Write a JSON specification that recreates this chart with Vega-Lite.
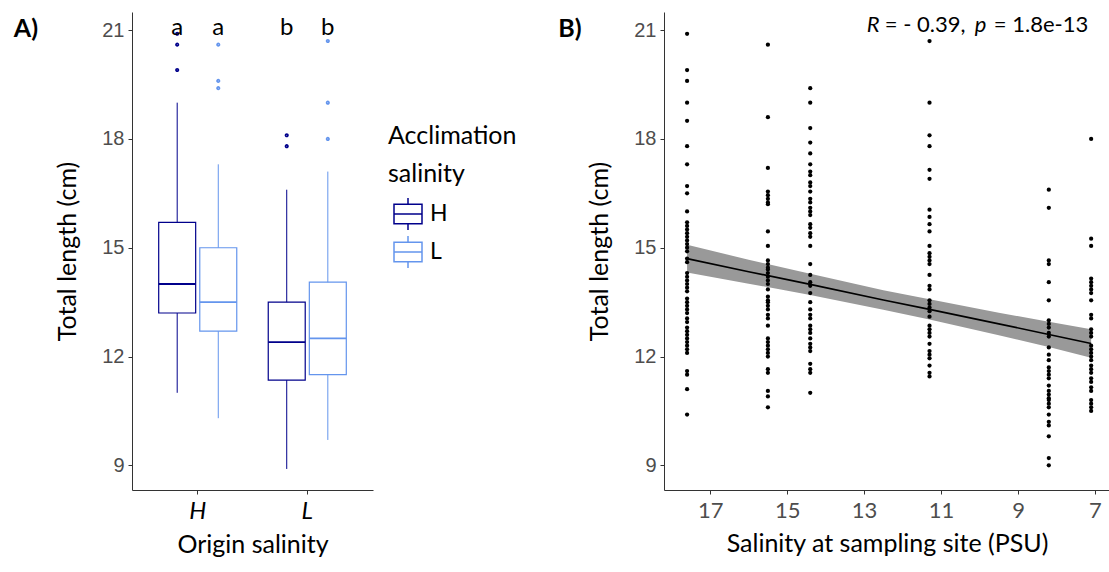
{
  "$schema": "https://vega.github.io/schema/vega-lite/v6.json",
  "background": "white",
  "padding": {"left": 13, "top": 12, "right": 0, "bottom": 4},
  "bounds": "flush",
  "spacing": 291,
  "config": {
    "view": {"stroke": null},
    "axis": {
      "grid": false,
      "domainColor": "#333333",
      "tickColor": "#333333",
      "domainWidth": 1,
      "tickWidth": 1,
      "tickSize": 4,
      "labelPadding": 4,
      "labelColor": "#4D4D4D",
      "labelFont": "Liberation Sans",
      "labelFontSize": 20,
      "titleFont": "Lato",
      "titleFontSize": 25,
      "titleFontWeight": "normal",
      "titleColor": "black"
    }
  },
  "datasets": {
    "boxes": [
      {"origin": "H", "accl": "H", "lo": 11.0, "q1": 13.2, "med": 14.0, "q3": 15.7, "hi": 19.0},
      {"origin": "H", "accl": "L", "lo": 10.3, "q1": 12.7, "med": 13.5, "q3": 15.0, "hi": 17.3},
      {"origin": "L", "accl": "H", "lo": 8.9, "q1": 11.35, "med": 12.4, "q3": 13.5, "hi": 16.6},
      {"origin": "L", "accl": "L", "lo": 9.7, "q1": 11.5, "med": 12.5, "q3": 14.05, "hi": 17.1}
    ],
    "outliers": [
      {"origin": "H", "accl": "H", "tl": 20.9},
      {"origin": "H", "accl": "H", "tl": 20.6},
      {"origin": "H", "accl": "H", "tl": 19.9},
      {"origin": "H", "accl": "L", "tl": 20.6},
      {"origin": "H", "accl": "L", "tl": 19.6},
      {"origin": "H", "accl": "L", "tl": 19.4},
      {"origin": "L", "accl": "H", "tl": 18.1},
      {"origin": "L", "accl": "H", "tl": 17.8},
      {"origin": "L", "accl": "L", "tl": 20.7},
      {"origin": "L", "accl": "L", "tl": 19.0},
      {"origin": "L", "accl": "L", "tl": 18.0}
    ],
    "letters": [
      {"origin": "H", "accl": "H", "tl": 20.87, "group": "a"},
      {"origin": "H", "accl": "L", "tl": 20.87, "group": "a"},
      {"origin": "L", "accl": "H", "tl": 20.87, "group": "b"},
      {"origin": "L", "accl": "L", "tl": 20.87, "group": "b"}
    ],
    "obs": [
      {"s": 17.6, "tl": 20.9}, {"s": 17.6, "tl": 19.9}, {"s": 17.6, "tl": 19.6}, {"s": 17.6, "tl": 19.0},
      {"s": 17.6, "tl": 18.5}, {"s": 17.6, "tl": 17.8}, {"s": 17.6, "tl": 17.3}, {"s": 17.6, "tl": 16.7},
      {"s": 17.6, "tl": 16.5}, {"s": 17.6, "tl": 16.0}, {"s": 17.6, "tl": 15.7}, {"s": 17.6, "tl": 15.6},
      {"s": 17.6, "tl": 15.5}, {"s": 17.6, "tl": 15.4}, {"s": 17.6, "tl": 15.3}, {"s": 17.6, "tl": 15.2},
      {"s": 17.6, "tl": 15.1}, {"s": 17.6, "tl": 15.0}, {"s": 17.6, "tl": 14.9}, {"s": 17.6, "tl": 14.7},
      {"s": 17.6, "tl": 14.6}, {"s": 17.6, "tl": 14.3}, {"s": 17.6, "tl": 14.2}, {"s": 17.6, "tl": 14.1},
      {"s": 17.6, "tl": 14.0}, {"s": 17.6, "tl": 13.9}, {"s": 17.6, "tl": 13.8}, {"s": 17.6, "tl": 13.6},
      {"s": 17.6, "tl": 13.5}, {"s": 17.6, "tl": 13.4}, {"s": 17.6, "tl": 13.3}, {"s": 17.6, "tl": 13.2},
      {"s": 17.6, "tl": 13.05}, {"s": 17.6, "tl": 12.95}, {"s": 17.6, "tl": 12.8}, {"s": 17.6, "tl": 12.7},
      {"s": 17.6, "tl": 12.6}, {"s": 17.6, "tl": 12.5}, {"s": 17.6, "tl": 12.4}, {"s": 17.6, "tl": 12.3},
      {"s": 17.6, "tl": 12.2}, {"s": 17.6, "tl": 12.1}, {"s": 17.6, "tl": 11.6}, {"s": 17.6, "tl": 11.5},
      {"s": 17.6, "tl": 11.1}, {"s": 17.6, "tl": 10.4},
      {"s": 15.5, "tl": 20.6}, {"s": 15.5, "tl": 18.6}, {"s": 15.5, "tl": 17.2}, {"s": 15.5, "tl": 16.55},
      {"s": 15.5, "tl": 16.45}, {"s": 15.5, "tl": 16.35}, {"s": 15.5, "tl": 16.25}, {"s": 15.5, "tl": 16.2},
      {"s": 15.5, "tl": 15.45}, {"s": 15.5, "tl": 15.05}, {"s": 15.5, "tl": 14.65}, {"s": 15.5, "tl": 14.55},
      {"s": 15.5, "tl": 14.45}, {"s": 15.5, "tl": 14.4}, {"s": 15.5, "tl": 14.3}, {"s": 15.5, "tl": 14.2},
      {"s": 15.5, "tl": 14.1}, {"s": 15.5, "tl": 14.0}, {"s": 15.5, "tl": 13.85}, {"s": 15.5, "tl": 13.65},
      {"s": 15.5, "tl": 13.55}, {"s": 15.5, "tl": 13.5}, {"s": 15.5, "tl": 13.4}, {"s": 15.5, "tl": 13.3},
      {"s": 15.5, "tl": 13.15}, {"s": 15.5, "tl": 13.05}, {"s": 15.5, "tl": 12.85}, {"s": 15.5, "tl": 12.5},
      {"s": 15.5, "tl": 12.4}, {"s": 15.5, "tl": 12.3}, {"s": 15.5, "tl": 12.2}, {"s": 15.5, "tl": 12.1},
      {"s": 15.5, "tl": 12.0}, {"s": 15.5, "tl": 11.65}, {"s": 15.5, "tl": 11.55}, {"s": 15.5, "tl": 11.05},
      {"s": 15.5, "tl": 10.9}, {"s": 15.5, "tl": 10.6},
      {"s": 14.4, "tl": 19.4}, {"s": 14.4, "tl": 19.0}, {"s": 14.4, "tl": 18.3}, {"s": 14.4, "tl": 17.9},
      {"s": 14.4, "tl": 17.6}, {"s": 14.4, "tl": 17.3}, {"s": 14.4, "tl": 17.1}, {"s": 14.4, "tl": 17.0},
      {"s": 14.4, "tl": 16.8}, {"s": 14.4, "tl": 16.7}, {"s": 14.4, "tl": 16.55}, {"s": 14.4, "tl": 16.35},
      {"s": 14.4, "tl": 16.25}, {"s": 14.4, "tl": 16.1}, {"s": 14.4, "tl": 16.0}, {"s": 14.4, "tl": 15.9},
      {"s": 14.4, "tl": 15.65}, {"s": 14.4, "tl": 15.55}, {"s": 14.4, "tl": 15.4}, {"s": 14.4, "tl": 15.3},
      {"s": 14.4, "tl": 15.05}, {"s": 14.4, "tl": 14.55}, {"s": 14.4, "tl": 14.25}, {"s": 14.4, "tl": 14.05},
      {"s": 14.4, "tl": 13.95}, {"s": 14.4, "tl": 13.75}, {"s": 14.4, "tl": 13.5}, {"s": 14.4, "tl": 13.3},
      {"s": 14.4, "tl": 13.15}, {"s": 14.4, "tl": 13.05}, {"s": 14.4, "tl": 12.85}, {"s": 14.4, "tl": 12.75},
      {"s": 14.4, "tl": 12.65}, {"s": 14.4, "tl": 12.5}, {"s": 14.4, "tl": 12.35}, {"s": 14.4, "tl": 12.25},
      {"s": 14.4, "tl": 12.15}, {"s": 14.4, "tl": 11.8}, {"s": 14.4, "tl": 11.65}, {"s": 14.4, "tl": 11.55},
      {"s": 14.4, "tl": 11.0},
      {"s": 11.3, "tl": 20.7}, {"s": 11.3, "tl": 19.0}, {"s": 11.3, "tl": 18.1}, {"s": 11.3, "tl": 17.8},
      {"s": 11.3, "tl": 17.15}, {"s": 11.3, "tl": 16.9}, {"s": 11.3, "tl": 16.05}, {"s": 11.3, "tl": 15.85},
      {"s": 11.3, "tl": 15.65}, {"s": 11.3, "tl": 15.45}, {"s": 11.3, "tl": 15.05}, {"s": 11.3, "tl": 14.85},
      {"s": 11.3, "tl": 14.75}, {"s": 11.3, "tl": 14.65}, {"s": 11.3, "tl": 14.55}, {"s": 11.3, "tl": 14.25},
      {"s": 11.3, "tl": 13.95}, {"s": 11.3, "tl": 13.85}, {"s": 11.3, "tl": 13.55}, {"s": 11.3, "tl": 13.45},
      {"s": 11.3, "tl": 13.35}, {"s": 11.3, "tl": 13.25}, {"s": 11.3, "tl": 13.1}, {"s": 11.3, "tl": 12.85},
      {"s": 11.3, "tl": 12.75}, {"s": 11.3, "tl": 12.65}, {"s": 11.3, "tl": 12.55}, {"s": 11.3, "tl": 12.35},
      {"s": 11.3, "tl": 12.15}, {"s": 11.3, "tl": 12.05}, {"s": 11.3, "tl": 11.95}, {"s": 11.3, "tl": 11.75},
      {"s": 11.3, "tl": 11.55}, {"s": 11.3, "tl": 11.45},
      {"s": 8.2, "tl": 16.6}, {"s": 8.2, "tl": 16.1}, {"s": 8.2, "tl": 14.65}, {"s": 8.2, "tl": 14.55},
      {"s": 8.2, "tl": 14.05}, {"s": 8.2, "tl": 13.55}, {"s": 8.2, "tl": 13.0}, {"s": 8.2, "tl": 12.9},
      {"s": 8.2, "tl": 12.8}, {"s": 8.2, "tl": 12.65}, {"s": 8.2, "tl": 12.55}, {"s": 8.2, "tl": 12.25},
      {"s": 8.2, "tl": 12.05}, {"s": 8.2, "tl": 11.9}, {"s": 8.2, "tl": 11.7}, {"s": 8.2, "tl": 11.6},
      {"s": 8.2, "tl": 11.5}, {"s": 8.2, "tl": 11.4}, {"s": 8.2, "tl": 11.2}, {"s": 8.2, "tl": 11.05},
      {"s": 8.2, "tl": 10.95}, {"s": 8.2, "tl": 10.85}, {"s": 8.2, "tl": 10.8}, {"s": 8.2, "tl": 10.7},
      {"s": 8.2, "tl": 10.6}, {"s": 8.2, "tl": 10.4}, {"s": 8.2, "tl": 10.2}, {"s": 8.2, "tl": 10.1},
      {"s": 8.2, "tl": 9.8}, {"s": 8.2, "tl": 9.2}, {"s": 8.2, "tl": 9.0},
      {"s": 7.1, "tl": 18.0}, {"s": 7.1, "tl": 15.25}, {"s": 7.1, "tl": 15.05}, {"s": 7.1, "tl": 14.15},
      {"s": 7.1, "tl": 14.05}, {"s": 7.1, "tl": 13.95}, {"s": 7.1, "tl": 13.85}, {"s": 7.1, "tl": 13.75},
      {"s": 7.1, "tl": 13.55}, {"s": 7.1, "tl": 13.15}, {"s": 7.1, "tl": 13.05}, {"s": 7.1, "tl": 12.75},
      {"s": 7.1, "tl": 12.65}, {"s": 7.1, "tl": 12.55}, {"s": 7.1, "tl": 12.3}, {"s": 7.1, "tl": 12.2},
      {"s": 7.1, "tl": 12.1}, {"s": 7.1, "tl": 12.0}, {"s": 7.1, "tl": 11.9}, {"s": 7.1, "tl": 11.75},
      {"s": 7.1, "tl": 11.65}, {"s": 7.1, "tl": 11.55}, {"s": 7.1, "tl": 11.4}, {"s": 7.1, "tl": 11.3},
      {"s": 7.1, "tl": 11.15}, {"s": 7.1, "tl": 11.05}, {"s": 7.1, "tl": 10.8}, {"s": 7.1, "tl": 10.7},
      {"s": 7.1, "tl": 10.6}, {"s": 7.1, "tl": 10.5}
    ],
    "fit": [
      {"s": 17.6, "fit": 14.70, "lo": 14.32, "hi": 15.08},
      {"s": 16.0, "fit": 14.34, "lo": 14.01, "hi": 14.67},
      {"s": 14.4, "fit": 13.99, "lo": 13.70, "hi": 14.28},
      {"s": 12.5, "fit": 13.56, "lo": 13.29, "hi": 13.83},
      {"s": 11.3, "fit": 13.30, "lo": 13.02, "hi": 13.58},
      {"s": 9.5, "fit": 12.90, "lo": 12.59, "hi": 13.21},
      {"s": 8.2, "fit": 12.61, "lo": 12.26, "hi": 12.96},
      {"s": 7.1, "fit": 12.36, "lo": 11.97, "hi": 12.75}
    ],
    "stat": [
      {"s": 12.93, "tl": 20.935, "r_sym": "R", "r_val": "= - 0.39,", "p_sym": "p", "p_val": "= 1.8e-13"}
    ]
  },
  "hconcat": [
    {
      "width": 241,
      "height": 478,
      "resolve": {"axis": {"y": "independent"}},
      "encoding": {
        "x": {
          "field": "origin", "type": "nominal",
          "scale": {"paddingInner": 0.25, "paddingOuter": 0.225},
          "axis": {"title": "Origin salinity", "labelAngle": 0, "labelFont": "Lato", "labelFontSize": 24, "labelFontStyle": "italic", "labelColor": "black", "labelPadding": 5, "titlePadding": 9, "bandPosition": 0.5}
        },
        "xOffset": {"field": "accl", "type": "nominal", "scale": {"paddingInner": 0.1, "paddingOuter": 0.05}}
      },
      "layer": [
        {
          "data": {"name": "boxes"},
          "mark": {"type": "bar", "filled": false, "strokeWidth": 1.2},
          "encoding": {
            "y": {"field": "q1", "type": "quantitative", "scale": {"domain": [8.32, 21.5], "nice": false, "zero": false},
                  "axis": {"title": "Total length (cm)", "values": [9, 12, 15, 18, 21], "titlePadding": 21}},
            "y2": {"field": "q3"},
            "color": {
              "field": "accl", "type": "nominal",
              "scale": {"domain": ["H", "L"], "range": ["#00008B", "#6495ED"]},
              "legend": {
                "title": ["Acclimation", "salinity"],
                "orient": "none", "legendX": 256, "legendY": 112,
                "padding": 0,
                "symbolType": "M-1,-0.7H1V0.7H-1Z M-1,0H1 M0,-0.7V-1.15 M0,0.7V1.15",
                "symbolSize": 784, "symbolStrokeWidth": 1.5, "symbolOffset": 5, "symbolFillColor": "transparent",
                "labelFont": "Lato", "labelFontSize": 23, "labelColor": "black", "labelOffset": 7,
                "titleFont": "Lato", "titleFontSize": 25, "titleFontWeight": "normal", "titleColor": "black",
                "titleLineHeight": 38, "titlePadding": 12, "rowPadding": -2,
                "encode": {"symbols": {"update": {"fill": {"value": "transparent"}}}}
              }
            }
          }
        },
        {
          "data": {"name": "boxes"},
          "mark": {"type": "rule", "strokeWidth": 1},
          "encoding": {
            "y": {"field": "lo", "type": "quantitative", "axis": null},
            "y2": {"field": "q1"},
            "color": {"field": "accl", "type": "nominal"}
          }
        },
        {
          "data": {"name": "boxes"},
          "mark": {"type": "rule", "strokeWidth": 1},
          "encoding": {
            "y": {"field": "q3", "type": "quantitative", "axis": null},
            "y2": {"field": "hi"},
            "color": {"field": "accl", "type": "nominal"}
          }
        },
        {
          "data": {"name": "boxes"},
          "mark": {"type": "bar", "filled": false, "strokeWidth": 1.8},
          "encoding": {
            "y": {"field": "med", "type": "quantitative", "axis": null},
            "y2": {"field": "med"},
            "color": {"field": "accl", "type": "nominal"}
          }
        },
        {
          "data": {"name": "outliers"},
          "mark": {"type": "point", "filled": false, "size": 3, "strokeWidth": 2.4, "opacity": 1},
          "encoding": {
            "y": {"field": "tl", "type": "quantitative", "axis": null},
            "color": {"field": "accl", "type": "nominal"}
          }
        },
        {
          "data": {"name": "letters"},
          "mark": {"type": "text", "font": "Lato", "fontSize": 24, "baseline": "alphabetic", "color": "black"},
          "encoding": {
            "y": {"field": "tl", "type": "quantitative",
                  "axis": {"orient": "right", "domain": false, "ticks": false, "labels": false, "title": "A)",
                           "titleAngle": 0, "titleX": -359.7, "titleY": 24.7, "titleAlign": "left", "titleBaseline": "alphabetic",
                           "titleFont": "Lato", "titleFontSize": 25, "titleFontWeight": "bold", "titleColor": "black"}},
            "text": {"field": "group"}
          }
        }
      ]
    },
    {
      "width": 446,
      "height": 478,
      "resolve": {"axis": {"y": "independent"}},
      "encoding": {
        "x": {
          "field": "s", "type": "quantitative",
          "scale": {"domain": [6.61, 18.2], "reverse": true, "nice": false, "zero": false},
          "axis": {"title": "Salinity at sampling site (PSU)", "values": [17, 15, 13, 11, 9, 7], "labelFont": "Lato", "labelFontSize": 22, "labelPadding": 6, "titlePadding": 10}
        }
      },
      "layer": [
        {
          "data": {"name": "fit"},
          "mark": {"type": "area", "color": "#999999", "opacity": 1},
          "encoding": {
            "y": {"field": "lo", "type": "quantitative", "scale": {"domain": [8.32, 21.5], "nice": false, "zero": false},
                  "axis": {"title": "Total length (cm)", "values": [9, 12, 15, 18, 21], "titlePadding": 21}},
            "y2": {"field": "hi"}
          }
        },
        {
          "data": {"name": "obs"},
          "mark": {"type": "point", "filled": true, "size": 18, "color": "black", "opacity": 1},
          "encoding": {
            "y": {"field": "tl", "type": "quantitative", "axis": null}
          }
        },
        {
          "data": {"name": "fit"},
          "mark": {"type": "line", "color": "black", "strokeWidth": 1.6},
          "encoding": {
            "y": {"field": "fit", "type": "quantitative", "axis": null}
          }
        },
        {
          "data": {"name": "stat"},
          "mark": {"type": "text", "font": "Lato", "fontSize": 22, "fontStyle": "italic", "align": "left", "baseline": "alphabetic", "color": "black", "dx": 0},
          "encoding": {
            "y": {"field": "tl", "type": "quantitative",
                  "axis": {"orient": "right", "domain": false, "ticks": false, "labels": false, "title": "B)",
                           "titleAngle": 0, "titleX": -552.3, "titleY": 24.7, "titleAlign": "left", "titleBaseline": "alphabetic",
                           "titleFont": "Lato", "titleFontSize": 25, "titleFontWeight": "bold", "titleColor": "black"}},
            "text": {"field": "r_sym"}
          }
        },
        {
          "data": {"name": "stat"},
          "mark": {"type": "text", "font": "Lato", "fontSize": 22, "align": "left", "baseline": "alphabetic", "color": "black", "dx": 18},
          "encoding": {"y": {"field": "tl", "type": "quantitative", "axis": null}, "text": {"field": "r_val"}}
        },
        {
          "data": {"name": "stat"},
          "mark": {"type": "text", "font": "Lato", "fontSize": 22, "fontStyle": "italic", "align": "left", "baseline": "alphabetic", "color": "black", "dx": 108},
          "encoding": {"y": {"field": "tl", "type": "quantitative", "axis": null}, "text": {"field": "p_sym"}}
        },
        {
          "data": {"name": "stat"},
          "mark": {"type": "text", "font": "Lato", "fontSize": 22, "align": "left", "baseline": "alphabetic", "color": "black", "dx": 127},
          "encoding": {"y": {"field": "tl", "type": "quantitative", "axis": null}, "text": {"field": "p_val"}}
        }
      ]
    }
  ]
}
